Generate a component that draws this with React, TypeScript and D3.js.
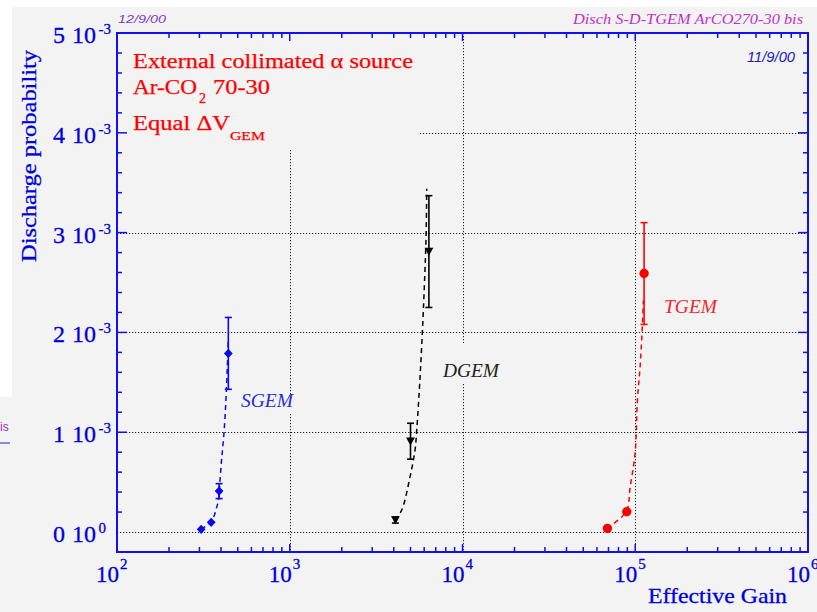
import React, { useRef, useEffect } from "react";
import * as d3 from "d3";

// SGEM measured points
const sgemGain = [307, 351, 390, 441];
const sgemProb = [0.027e-3, 0.097e-3, 0.41e-3, 1.79e-3];
const sgemErr = [0, 0, 0.075e-3, 0.36e-3];
// SGEM fit (dashed)
const sgemFitGain = [306, 350, 378, 389, 394, 403, 416, 427, 435, 441];
const sgemFitProb = [0.03e-3, 0.1e-3, 0.25e-3, 0.35e-3, 0.5e-3, 0.72e-3, 0.99e-3, 1.32e-3, 1.65e-3, 1.92e-3];

// DGEM measured points
const dgemGain = [4090, 5000, 6390];
const dgemProb = [0.12e-3, 0.91e-3, 2.81e-3];
const dgemErr = [0.03e-3, 0.18e-3, 0.56e-3];
// DGEM fit
const dgemFitGain = [4064, 4446, 4966, 5309, 5432, 5678, 5934, 6150, 6207];
const dgemFitProb = [0.12e-3, 0.22e-3, 0.55e-3, 0.82e-3, 1.02e-3, 1.55e-3, 2.22e-3, 2.95e-3, 3.44e-3];

// TGEM measured points
const tgemGain = [69000, 89300, 112500];
const tgemProb = [0.037e-3, 0.203e-3, 2.59e-3];
const tgemErr = [0, 0, 0.51e-3];
// TGEM fit
const tgemFitGain = [68400, 88500, 93400, 99800, 102900, 106600, 109400, 111400];
const tgemFitProb = [0.037e-3, 0.203e-3, 0.45e-3, 0.79e-3, 1.32e-3, 1.65e-3, 1.99e-3, 2.32e-3];

// tick labels
const yTicks = [0, 1e-3, 2e-3, 3e-3, 4e-3, 5e-3];
const yTickMant = ["0", "1", "2", "3", "4", "5"];
const yTickExp = ["0", "-3", "-3", "-3", "-3", "-3"];
const xDecades = [2, 3, 4, 5, 6];

const serif = "'Liberation Serif', 'Times New Roman', serif";
const sans = "'Liberation Sans', Arial, sans-serif";
const BG = "#f3f3f3";
const AXIS = "#1010f0";
const LABEL = "#0000dd";

function App() {
    const svgRef = useRef(null);

    useEffect(() => {
        const left = 117, right = 808, top = 33, bottom = 552;
        const svg = d3.select(svgRef.current);
        svg.selectAll("*").remove();

        const x = d3.scaleLog().domain([1e2, 1e6]).range([left, right]);
        const y = d3.scaleLinear().domain([-0.2e-3, 5e-3]).range([bottom, top]);

        // background
        svg.append("rect").attr("x", 12).attr("y", 7).attr("width", 805).attr("height", 605).attr("fill", BG);
        svg.append("rect").attr("x", 0).attr("y", 397).attr("width", 12).attr("height", 215).attr("fill", BG);

        // grid
        const grid = svg.append("g").attr("stroke", "#222").attr("stroke-width", 1).attr("stroke-dasharray", "1.2,1.8");
        grid.selectAll(".hg").data(yTicks.slice(0, 5)).join("line")
            .attr("x1", left).attr("x2", right)
            .attr("y1", d => Math.round(y(d)) + 0.5).attr("y2", d => Math.round(y(d)) + 0.5);
        grid.selectAll(".vg").data([1e3, 1e4, 1e5]).join("line")
            .attr("x1", d => Math.round(x(d)) + 0.5).attr("x2", d => Math.round(x(d)) + 0.5)
            .attr("y1", top).attr("y2", bottom);

        // label boxes hiding the grid
        const boxes = [[118, 34, 300, 116], [236, 394, 62, 20], [438, 343, 65, 40], [660, 295, 62, 23]];
        svg.selectAll(".box").data(boxes).join("rect")
            .attr("x", d => d[0]).attr("y", d => d[1]).attr("width", d => d[2]).attr("height", d => d[3])
            .attr("fill", BG);

        const line = d3.line().x(d => x(d[0])).y(d => y(d[1])).curve(d3.curveCatmullRom);

        const series = [
            { gain: sgemGain, prob: sgemProb, err: sgemErr, fg: sgemFitGain, fp: sgemFitProb, color: "#0808f0", shape: "diamond" },
            { gain: dgemGain, prob: dgemProb, err: dgemErr, fg: dgemFitGain, fp: dgemFitProb, color: "#000000", shape: "tri" },
            { gain: tgemGain, prob: tgemProb, err: tgemErr, fg: tgemFitGain, fp: tgemFitProb, color: "#ff0000", shape: "circle" },
        ];

        series.forEach(s => {
            const g = svg.append("g");
            // dashed fit
            g.append("path")
                .attr("d", line(s.fg.map((v, i) => [v, s.fp[i]])))
                .attr("fill", "none").attr("stroke", s.color).attr("stroke-width", 1.5)
                .attr("stroke-dasharray", "5,4");
            // error bars
            s.gain.forEach((gv, i) => {
                if (!s.err[i]) return;
                const cx = x(gv), y1 = y(s.prob[i] - s.err[i]), y2 = y(s.prob[i] + s.err[i]);
                g.append("line").attr("x1", cx).attr("x2", cx).attr("y1", y1).attr("y2", y2)
                    .attr("stroke", s.color).attr("stroke-width", 1.6);
                [y1, y2].forEach(yy => g.append("line").attr("x1", cx - 3.5).attr("x2", cx + 3.5)
                    .attr("y1", yy).attr("y2", yy).attr("stroke", s.color).attr("stroke-width", 1.6));
            });
            // markers
            s.gain.forEach((gv, i) => {
                const cx = x(gv), cy = y(s.prob[i]);
                if (s.shape === "circle") {
                    g.append("circle").attr("cx", cx).attr("cy", cy).attr("r", 4.7).attr("fill", s.color);
                } else if (s.shape === "diamond") {
                    g.append("path").attr("transform", `translate(${cx},${cy})`)
                        .attr("d", "M0,-4.6L4.4,0L0,4.6L-4.4,0Z").attr("fill", s.color);
                } else {
                    g.append("path").attr("transform", `translate(${cx},${cy})`)
                        .attr("d", "M-4.4,-3.8L4.4,-3.8L0,4.2Z").attr("fill", s.color);
                }
            });
        });

        // frame and ticks
        const ax = svg.append("g").attr("stroke", AXIS).attr("stroke-width", 1.5);
        ax.append("rect").attr("x", left).attr("y", top).attr("width", right - left).attr("height", bottom - top)
            .attr("fill", "none").attr("stroke-width", 2);
        const yMinor = d3.range(1, 26).map(i => i * 0.2e-3);
        yMinor.forEach((v, i) => {
            const major = (i + 1) % 5 === 0;
            const len = major ? 10 : 5;
            const yy = y(v);
            ax.append("line").attr("x1", left).attr("x2", left + len).attr("y1", yy).attr("y2", yy);
            ax.append("line").attr("x1", right).attr("x2", right - len).attr("y1", yy).attr("y2", yy);
        });
        const xTickVals = [];
        [2, 3, 4, 5].forEach(k => d3.range(1, 10).forEach(m => xTickVals.push({ v: m * Math.pow(10, k), major: m === 1 })));
        xTickVals.forEach(t => {
            const xx = x(t.v);
            const len = t.major ? 8 : 5;
            ax.append("line").attr("x1", xx).attr("x2", xx).attr("y1", top).attr("y2", top + len);
            ax.append("line").attr("x1", xx).attr("x2", xx).attr("y1", bottom).attr("y2", bottom - len);
        });

        // y tick labels
        yTicks.forEach((v, i) => {
            const yy = y(v);
            const t = svg.append("g").attr("fill", LABEL).attr("stroke", LABEL).attr("stroke-width", 0.3)
                .style("font-family", serif);
            t.append("text").attr("x", 53).attr("y", yy + 10).style("font-size", "24px").text(yTickMant[i]);
            t.append("text").attr("x", 72).attr("y", yy + 10).style("font-size", "24px").text("10");
            t.append("text").attr("x", 98.5).attr("y", yy + 1).style("font-size", "15px").text(yTickExp[i]);
        });

        // x tick labels
        xDecades.forEach(k => {
            const xx = x(Math.pow(10, k));
            const t = svg.append("g").attr("fill", LABEL).attr("stroke", LABEL).attr("stroke-width", 0.3)
                .style("font-family", serif);
            t.append("text").attr("x", xx - 21).attr("y", 582).style("font-size", "23px").text("10");
            t.append("text").attr("x", xx + 3).attr("y", 569).style("font-size", "15px").text(String(k));
        });

        // axis titles
        svg.append("text").attr("transform", "translate(36,156) rotate(-90)")
            .attr("text-anchor", "middle").attr("fill", LABEL).attr("stroke", LABEL).attr("stroke-width", 0.3)
            .attr("textLength", 212).attr("lengthAdjust", "spacingAndGlyphs")
            .style("font-family", serif).style("font-size", "22px").text("Discharge probability");
        svg.append("text").attr("x", 648).attr("y", 603).attr("fill", LABEL).attr("stroke", LABEL).attr("stroke-width", 0.3)
            .attr("textLength", 139).attr("lengthAdjust", "spacingAndGlyphs")
            .style("font-family", serif).style("font-size", "22px").text("Effective Gain");

        // helper for stretched text
        const txt = (str, xx, yy, size, len, color, family = serif, italic = false) => {
            const t = svg.append("text").attr("x", xx).attr("y", yy).attr("fill", color)
                .style("font-family", family).style("font-size", size + "px").text(str);
            if (italic) t.style("font-style", "italic");
            if (len) t.attr("textLength", len).attr("lengthAdjust", "spacingAndGlyphs");
            return t;
        };

        // legend text
        const red = "#ff0000";
        [
            txt("External collimated \u03b1 source", 133, 68, 20, 280, red),
            txt("Ar-CO", 133, 94, 20, 64, red),
            txt("2", 199, 103, 14, 0, red),
            txt("70-30", 213, 94, 20, 57, red),
            txt("Equal \u0394V", 133, 130, 20, 97, red),
            txt("GEM", 230, 140, 13, 35, red),
        ].forEach(t => t.attr("stroke", red).attr("stroke-width", 0.25));

        // series labels
        txt("SGEM", 241, 407, 19, 52, "#2a2ae0", serif, true);
        txt("DGEM", 443, 377, 19, 56, "#222222", serif, true);
        txt("TGEM", 664, 313, 19, 53, "#f02828", serif, true);

        // annotations
        txt("12/9/00", 118, 22.5, 11, 48, "#8040c0", sans, true);
        txt("Disch S-D-TGEM ArCO270-30 bis", 573, 24, 14, 230, "#c030c8", serif, true);
        txt("11/9/00", 747, 61.5, 15, 48, "#2020c0", sans, true);
        txt("is", 0, 431, 12, 0, "#a030c0", sans);
        svg.append("line").attr("x1", 0).attr("x2", 10).attr("y1", 443).attr("y2", 443)
            .attr("stroke", "#2020c0").attr("stroke-width", 1);
    }, []);

    return (
        <svg ref={svgRef} width={817} height={612}
            style={{ position: "absolute", left: 0, top: 0, background: "#fff" }}></svg>
    );
}

export default App;
